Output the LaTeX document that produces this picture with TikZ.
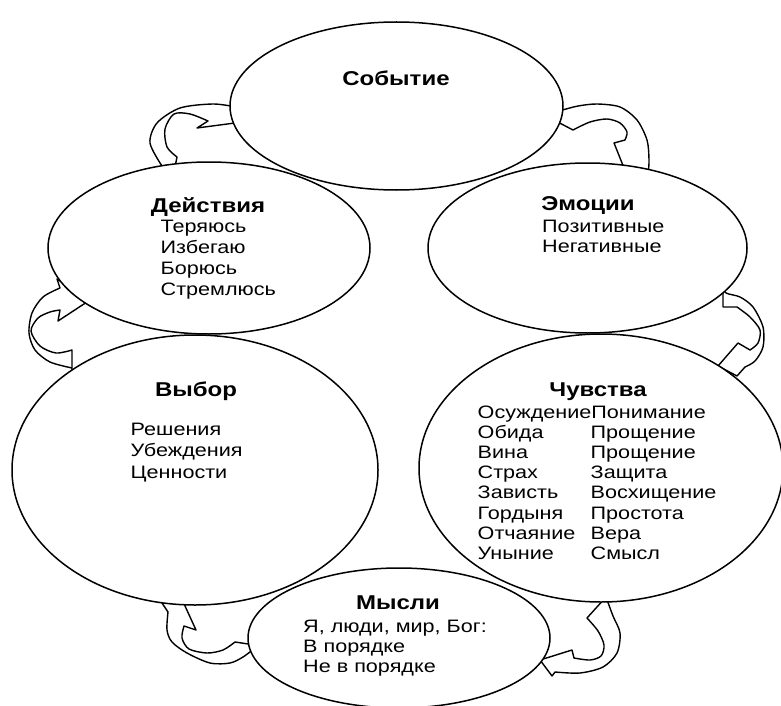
\documentclass[tikz,border=0pt]{standalone}
\usepackage{fontspec}
\setmainfont{Liberation Sans}[FakeStretch=1.2]
\usetikzlibrary{shapes.geometric}
\begin{document}
\begin{tikzpicture}[x=1pt,y=-1pt,
  oval/.style={ellipse, draw=black, line width=1.5pt, inner sep=0pt, outer sep=0pt},
  blank/.style={fill=white},
  arr/.style={draw=black, line width=1.4pt, line join=round},
  ttl/.style={font=\fontsize{20}{24}\selectfont\bfseries, inner sep=0pt, anchor=base},
  itm/.style={font=\fontsize{18}{20}\selectfont, inner sep=0pt, anchor=base west},
]
\useasboundingbox (0,0) rectangle (781,706);

% ellipse centres
\coordinate (c-ev) at (396.5,106);
\coordinate (c-act) at (209,248);
\coordinate (c-emo) at (587.5,248);
\coordinate (c-cho) at (195,470);
\coordinate (c-feel) at (601,468);
\coordinate (c-th) at (399,638);

% curved block arrows (drawn first, partly hidden by the ovals)
% Действия -> Событие
\draw[arr] (158,173) -- plot[smooth] coordinates {(162,166) (150,143) (157,123) (180,108) (213,104) (236,107)}
  -- (240,98) -- (250,121) -- (197,128) -- (208,121)
  -- plot[smooth] coordinates {(208,121) (190,114) (174,114) (165,129) (167,147) (177,157)}
  -- (174,172) -- cycle;
% Событие -> Эмоции
\draw[arr] (550,118) -- (573,130)
  -- plot[smooth] coordinates {(573,130) (590,122) (607,119) (620,123) (627,132) (625,140)}
  -- (614,143) -- (630,183) -- (657,181) -- (648,177)
  -- plot[smooth] coordinates {(648,177) (649,160) (647,140) (637,120) (620,107) (597,104) (578,106) (562,110) (548,112)}
  -- cycle;
% Эмоции -> Чувства
\draw[arr] (723,286) -- (723,307) -- (737,307)
  -- plot[smooth] coordinates {(737,307) (750,317) (760,330) (758,343) (750,350)}
  -- (738,343) -- (718,366) -- (737,376) -- (745,367)
  -- plot[smooth] coordinates {(745,367) (755,361) (763,347) (763,327) (753,307) (740,297) (726,293) (723,286)}
  -- cycle;
% Чувства -> Мысли
\draw[arr] (606,597) -- (587,618)
  -- plot[smooth] coordinates {(587,618) (598,631) (604,645) (601,656) (590,660) (574,658)}
  -- (572,650) -- (540,660) -- (552,676) -- (555,672)
  -- plot[smooth] coordinates {(555,672) (580,673) (603,667) (617,653) (620,633) (613,616) (606,597)}
  -- cycle;
% Мысли -> Выбор
\draw[arr] (255,645) -- (235,642)
  -- plot[smooth] coordinates {(235,642) (223,650) (207,653) (189,649) (182,638) (184,626)}
  -- (196,630) -- (180,595) -- (162,603) -- (168,612)
  -- plot[smooth] coordinates {(168,612) (167,630) (172,642) (187,653) (210,663) (230,663) (243,657) (255,648)}
  -- cycle;
% Выбор -> Действия
\draw[arr] (72,376) -- (72,350)
  -- plot[smooth] coordinates {(72,350) (56,353) (40,346) (31,331) (38,318) (50,312) (60,310)}
  -- (58,321) -- (90,300) -- (57,279) -- (60,288)
  -- plot[smooth] coordinates {(60,288) (43,297) (32,313) (29,333) (35,350) (50,362) (72,368)}
  -- cycle;

% white interiors
\fill[blank] (c-ev) ellipse [x radius=166.5pt, y radius=84pt];
\fill[blank] (c-act) ellipse [x radius=161pt, y radius=86pt];
\fill[blank] (c-emo) ellipse [x radius=159.5pt, y radius=85pt];
\fill[blank] (c-cho) ellipse [x radius=183pt, y radius=135pt];
\fill[blank] (c-feel) ellipse [x radius=182pt, y radius=134pt];
\fill[blank] (c-th) ellipse [x radius=151pt, y radius=70pt];

% outlines
\node[oval, minimum width=333pt, minimum height=168pt] (ev) at (c-ev) {};
\node[oval, minimum width=322pt, minimum height=172pt] (act) at (c-act) {};
\node[oval, minimum width=319pt, minimum height=170pt] (emo) at (c-emo) {};
\node[oval, minimum width=366pt, minimum height=270pt] (cho) at (c-cho) {};
\node[oval, minimum width=364pt, minimum height=268pt] (feel) at (c-feel) {};
\node[oval, minimum width=302pt, minimum height=140pt] (th) at (c-th) {};

% texts
\node[ttl] (t-ev) at (396,86) {Событие};

\node[ttl] (t-act) at (208,212) {Действия};
\node[itm] (a1) at (160.5,232) {Теряюсь};
\node[itm] (a2) at (160.5,253) {Избегаю};
\node[itm] (a3) at (160.5,274) {Борюсь};
\node[itm] (a4) at (160.5,295) {Стремлюсь};

\node[ttl] (t-emo) at (588,210) {Эмоции};
\node[itm] (e1) at (542,232) {Позитивные};
\node[itm] (e2) at (542,252) {Негативные};

\node[ttl] (t-cho) at (196,396) {Выбор};
\node[itm] (v1) at (130.5,435) {Решения};
\node[itm] (v2) at (130.5,456) {Убеждения};
\node[itm] (v3) at (130.5,478) {Ценности};

\node[ttl] (t-feel) at (598,396) {Чувства};
\foreach \t [count=\i from 0] in {ОсуждениеПонимание, Обида, Вина, Страх, Зависть, Гордыня, Отчаяние, Уныние}
  \node[itm] (fl-\i) at (477.5,{418.3+20.16*\i}) {\t};
\foreach \t [count=\i from 1] in {Прощение, Прощение, Защита, Восхищение, Простота, Вера, Смысл}
  \node[itm] (fr-\i) at (590.5,{418.3+20.16*\i}) {\t};

\node[ttl] (t-th) at (398,609) {Мысли};
\node[itm] (m1) at (303,632.5) {Я, люди, мир, Бог:};
\node[itm] (m2) at (303,652.5) {В порядке};
\node[itm] (m3) at (303,672) {Не в порядке};
\end{tikzpicture}
\end{document}
